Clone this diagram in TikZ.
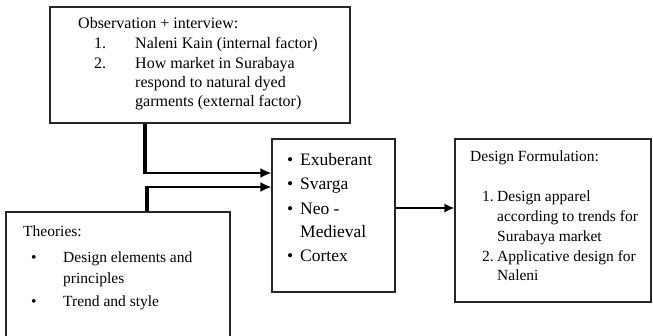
\documentclass[tikz,border=0pt]{standalone}
\usepackage{fontspec}
\setmainfont{Liberation Serif}
\usetikzlibrary{arrows.meta}
\begin{document}
\begin{tikzpicture}[x=1pt,y=-1pt,
  box/.style={draw=black!85,line width=1.2pt,inner sep=0pt},
  ttxt/.style={anchor=base west,inner sep=0pt,font=\fontsize{16}{19}\selectfont},
  txt/.style={anchor=base west,inner sep=0pt,font=\fontsize{15.5}{19}\selectfont},
  mtxt/.style={anchor=base west,inner sep=0pt,font=\fontsize{17.5}{21}\selectfont},
  vline/.style={line width=4pt},
  hline/.style={line width=2pt,-{Latex[length=11pt,width=10pt]}},
  oline/.style={line width=1.3pt,-{Latex[length=10pt,width=9pt]}}]
\clip (0,0) rectangle (653,335);
\useasboundingbox (0,0) rectangle (653,335);
% boxes
\node[box,minimum width=300pt,minimum height=116pt] (top) at (200,65) {};
\node[box,minimum width=224pt,minimum height=140pt] (theo) at (118,282) {};
\node[box,minimum width=123pt,minimum height=153pt] (mid) at (333.5,215.5) {};
\node[box,minimum width=196pt,minimum height=163pt] (des) at (553,220.5) {};
% top text
\node[ttxt] (t0) at (78,28) {Observation + interview:};
\node[ttxt] (t1n) at (94,48) {1.};
\node[ttxt] (t1) at (135,48) {Naleni Kain (internal factor)};
\node[ttxt] (t2n) at (94,68) {2.};
\node[ttxt] (t2) at (135,68) {How market in Surabaya};
\node[ttxt] (t3) at (135,87) {respond to natural dyed};
\node[ttxt] (t4) at (135,106) {garments (external factor)};
% theories text
\node[txt] (h0) at (23,236) {Theories:};
\node[txt] (h1b) at (31,262) {\textbullet};
\node[txt] (h1) at (63,262) {Design elements and};
\node[txt] (h2) at (63,283) {principles};
\node[txt] (h3b) at (31,306) {\textbullet};
\node[txt] (h3) at (63,306) {Trend and style};
% middle text
\node[mtxt] (m1b) at (287,165) {\textbullet};
\node[mtxt] (m1) at (300,165) {Exuberant};
\node[mtxt] (m2b) at (287,189) {\textbullet};
\node[mtxt] (m2) at (300,189) {Svarga};
\node[mtxt] (m3b) at (287,214) {\textbullet};
\node[mtxt] (m3) at (300,214) {Neo -};
\node[mtxt] (m4) at (300,237) {Medieval};
\node[mtxt] (m5b) at (287,261) {\textbullet};
\node[mtxt] (m5) at (300,261) {Cortex};
% design text
\node[txt] (d0) at (470,161) {Design Formulation:};
\node[txt] (d1n) at (482,201) {1.};
\node[txt] (d1) at (497,201) {Design apparel};
\node[txt] (d2) at (497,221) {according to trends for};
\node[txt] (d3) at (497,241) {Surabaya market};
\node[txt] (d4n) at (482,261) {2.};
\node[txt] (d4) at (497,261) {Applicative design for};
\node[txt] (d5) at (497,280) {Naleni};
% connectors
\coordinate (j1) at (145,173);
\coordinate (j2) at (147,187);
\draw[vline] (top.south -| j1) -- ([yshift=1pt]j1);
\draw[hline] ([xshift=-2pt]j1) -- (mid.west |- j1);
\draw[vline] (theo.north -| j2) -- ([yshift=-1pt]j2);
\draw[hline] ([xshift=-2pt]j2) -- (mid.west |- j2);
\draw[oline] (mid.east |- 0,208) -- (des.west |- 0,208);
\end{tikzpicture}
\end{document}
